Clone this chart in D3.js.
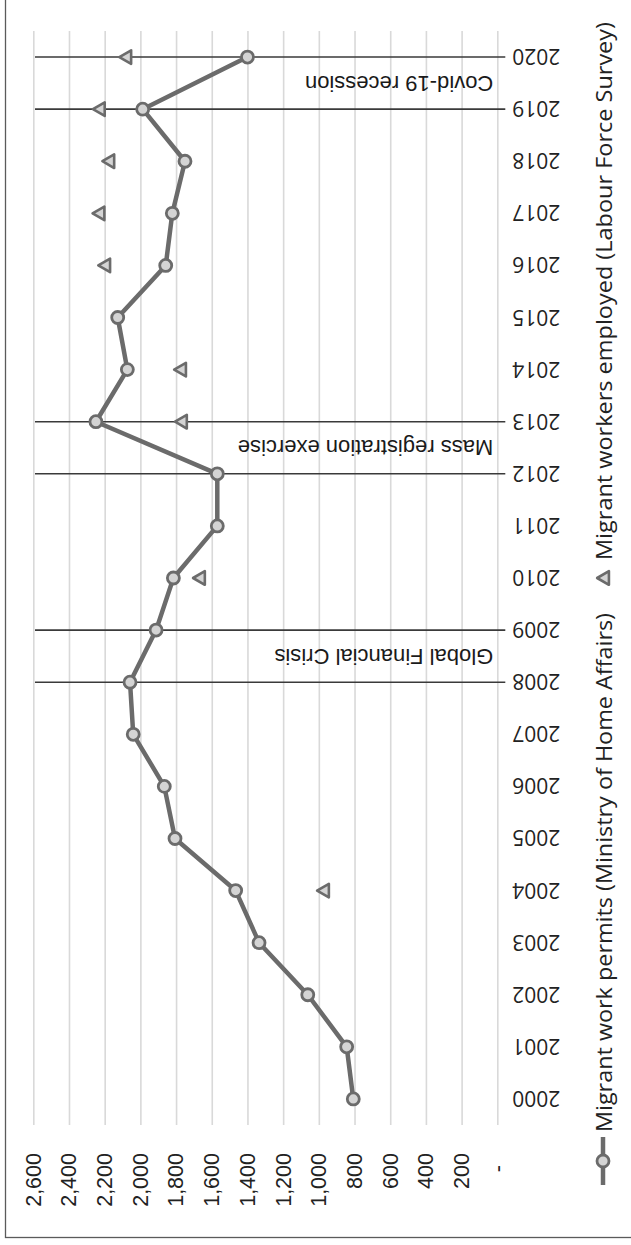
<!DOCTYPE html>
<html lang="en">
<head>
<meta charset="utf-8">
<title>Migrant workers</title>
<script src="https://d3js.org/d3.v7.min.js"></script>
<style>
  body { margin: 0; background: #fff; }
</style>
</head>
<body>
<script>
// data (thousands)
var years = [2000, 2001, 2002, 2003, 2004, 2005, 2006, 2007, 2008, 2009, 2010,
             2011, 2012, 2013, 2014, 2015, 2016, 2017, 2018, 2019, 2020];
var permits = [807, 844, 1062, 1335, 1466, 1806, 1866, 2040, 2058, 1912, 1815,
               1569, 1569, 2249, 2073, 2127, 1858, 1821, 1750, 1987, 1400];
var lfsYears = [2004, 2010, 2013, 2014, 2016, 2017, 2018, 2019, 2020];
var lfsWorkers = [977, 1672, 1773, 1778, 2203, 2235, 2180, 2233, 2085];
var yTicks = [0, 200, 400, 600, 800, 1000, 1200, 1400, 1600, 1800, 2000, 2200, 2400, 2600];
var eventLines = [2008, 2009, 2012, 2013, 2019, 2020];
var eventLabels = [
  {from: 2008, to: 2009, text: "Global Financial Crisis"},
  {from: 2012, to: 2013, text: "Mass registration exercise"},
  {from: 2019, to: 2020, text: "Covid-19 recession"}
];
var seriesNames = ["Migrant work permits (Ministry of Home Affairs)",
                   "Migrant workers employed (Labour Force Survey)"];

// the chart is drawn in landscape and turned a quarter to the left
var W = 1245, H = 631;
var plot = {left: 120, right: 1214, top: 33.3, bottom: 497.3};
var lineCol = "#6b6b6b", fillCol = "#d4d4d4";

var svg = d3.select("body").append("svg")
    .attr("width", H).attr("height", W);

var g = svg.append("g")
    .attr("transform", "translate(0," + W + ") rotate(-90)");

// frame
g.append("rect")
    .attr("x", 7.5).attr("y", 5.5)
    .attr("width", W + 50).attr("height", H + 50)
    .attr("fill", "none").attr("stroke", "#5a5a5a").attr("stroke-width", 1.3);

var x = d3.scalePoint().domain(years).range([plot.left, plot.right]).padding(0.5);
var y = d3.scaleLinear().domain([0, 2600]).range([plot.bottom, plot.top]);

// gridlines
g.append("g")
    .attr("transform", "translate(" + plot.left + ",0)")
    .call(d3.axisLeft(y).tickValues(yTicks).tickSize(-(plot.right - plot.left)).tickFormat(""))
    .call(function (a) {
      a.select(".domain").remove();
      a.selectAll("line").attr("stroke", "#d9d9d9").attr("stroke-width", 1.6);
    });

// value labels
g.append("g")
    .attr("transform", "translate(" + plot.left + ",0)")
    .call(d3.axisLeft(y).tickValues(yTicks).tickSize(0).tickPadding(28)
      .tickFormat(function (d) { return d === 0 ? "-" : d3.format(",")(d); }))
    .call(function (a) {
      a.select(".domain").remove();
      a.selectAll("text")
        .attr("font-family", "'Liberation Sans', Arial, sans-serif")
        .attr("font-size", 21.5)
        .attr("fill", "#222")
        .attr("dx", function (d) { return d === 0 ? -12 : 0; });
    });

// year labels, turned
g.append("g").selectAll("text")
    .data(years).enter().append("text")
    .attr("transform", function (d) { return "translate(" + x(d) + "," + (plot.bottom + 15) + ") rotate(-90)"; })
    .attr("text-anchor", "end")
    .attr("dominant-baseline", "central")
    .attr("font-family", "'Open Sans', sans-serif")
    .attr("font-size", 21)
    .attr("fill", "#222")
    .text(function (d) { return d; });

// event lines
g.append("g").selectAll("line")
    .data(eventLines).enter().append("line")
    .attr("x1", function (d) { return x(d); })
    .attr("x2", function (d) { return x(d); })
    .attr("y1", 35)
    .attr("y2", plot.bottom + 8)
    .attr("stroke", "#3a3a3a").attr("stroke-width", 1.6);

g.append("g").selectAll("text")
    .data(eventLabels).enter().append("text")
    .attr("transform", function (d) { return "translate(" + (x(d.from) + x(d.to)) / 2 + "," + (plot.bottom - 4) + ") rotate(-90)"; })
    .attr("text-anchor", "start")
    .attr("dominant-baseline", "central")
    .attr("font-family", "'Liberation Sans', Arial, sans-serif")
    .attr("font-size", 22)
    .attr("fill", "#1a1a1a")
    .text(function (d) { return d.text; });

// permits line
var line = d3.line()
    .x(function (d, i) { return x(years[i]); })
    .y(function (d) { return y(d); });

g.append("path")
    .datum(permits)
    .attr("d", line)
    .attr("fill", "none")
    .attr("stroke", lineCol)
    .attr("stroke-width", 4.5)
    .attr("stroke-linejoin", "round");

g.append("g").selectAll("circle")
    .data(permits).enter().append("circle")
    .attr("cx", function (d, i) { return x(years[i]); })
    .attr("cy", function (d) { return y(d); })
    .attr("r", 6)
    .attr("fill", fillCol)
    .attr("stroke", lineCol)
    .attr("stroke-width", 2.8);

// LFS triangles (box-centred like the spreadsheet markers)
var tri = d3.symbol().type(d3.symbolTriangle).size(80);
g.append("g").selectAll("path")
    .data(lfsWorkers).enter().append("path")
    .attr("d", tri)
    .attr("transform", function (d, i) { return "translate(" + x(lfsYears[i]) + "," + (y(d) + 2) + ")"; })
    .attr("fill", fillCol)
    .attr("stroke", lineCol)
    .attr("stroke-width", 2.6)
    .attr("stroke-linejoin", "round");

// legend
var legY = 603;
var leg1 = g.append("g");
leg1.append("line")
    .attr("x1", 60).attr("x2", 108).attr("y1", legY).attr("y2", legY)
    .attr("stroke", lineCol).attr("stroke-width", 4.5);
leg1.append("circle")
    .attr("cx", 84).attr("cy", legY).attr("r", 6)
    .attr("fill", fillCol).attr("stroke", lineCol).attr("stroke-width", 2.8);
leg1.append("text")
    .attr("x", 113).attr("y", legY)
    .attr("dominant-baseline", "central")
    .attr("font-family", "'Open Sans', sans-serif")
    .attr("font-size", 22)
    .attr("textLength", 519)
    .attr("lengthAdjust", "spacingAndGlyphs")
    .attr("fill", "#222")
    .text(seriesNames[0]);

var leg2 = g.append("g");
leg2.append("path")
    .attr("d", tri)
    .attr("transform", "translate(667," + (legY + 2) + ")")
    .attr("fill", fillCol).attr("stroke", lineCol).attr("stroke-width", 2.6)
    .attr("stroke-linejoin", "round");
leg2.append("text")
    .attr("x", 685).attr("y", legY)
    .attr("dominant-baseline", "central")
    .attr("font-family", "'Open Sans', sans-serif")
    .attr("font-size", 22)
    .attr("textLength", 538)
    .attr("lengthAdjust", "spacingAndGlyphs")
    .attr("fill", "#222")
    .text(seriesNames[1]);
</script>
</body>
</html>
